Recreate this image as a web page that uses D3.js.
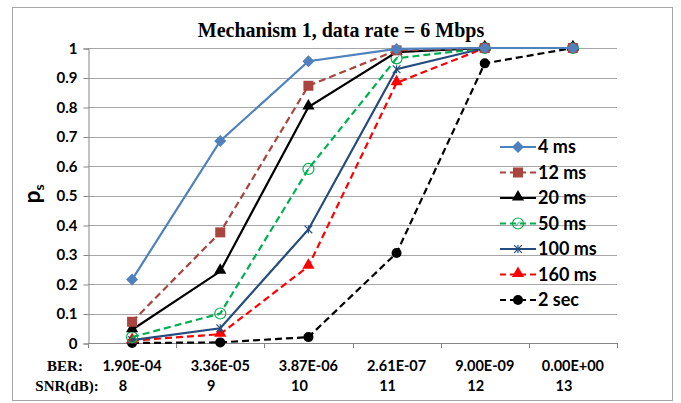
<!DOCTYPE html>
<html>
<head>
<meta charset="utf-8">
<script src="https://cdn.jsdelivr.net/npm/d3@7"></script>
<style>
  body { margin: 0; background: #fff; }
  svg text { font-family: "Lato", "Liberation Sans", sans-serif; }
</style>
</head>
<body>
<svg id="chart" width="681" height="403"></svg>
<script>
// categories
var ber = ["1.90E-04", "3.36E-05", "3.87E-06", "2.61E-07", "9.00E-09", "0.00E+00"];
var snr = ["8", "9", "10", "11", "12", "13"];
var yTicks = [0, 0.1, 0.2, 0.3, 0.4, 0.5, 0.6, 0.7, 0.8, 0.9, 1];

// series values
var ms4   = [0.215, 0.685, 0.955, 0.997, 1, 1];
var ms12  = [0.072, 0.375, 0.872, 0.992, 1, 1];
var ms20  = [0.045, 0.243, 0.800, 0.986, 1, 1];
var ms50  = [0.020, 0.100, 0.590, 0.965, 1, 1];
var ms100 = [0.010, 0.050, 0.385, 0.928, 1, 1];
var ms160 = [0.008, 0.030, 0.260, 0.882, 1, 1];
var sec2  = [0.000, 0.002, 0.020, 0.305, 0.948, 1];

var series = [
  {name: "4 ms",   values: ms4,   color: "#4F81BD", dash: null,  marker: "diamond"},
  {name: "12 ms",  values: ms12,  color: "#A9443F", dash: "7,4", marker: "square"},
  {name: "20 ms",  values: ms20,  color: "#000000", dash: null,  marker: "triangle"},
  {name: "50 ms",  values: ms50,  color: "#00B050", dash: "7,4", marker: "circleOpen"},
  {name: "100 ms", values: ms100, color: "#244C7C", dash: null,  marker: "star"},
  {name: "160 ms", values: ms160, color: "#FF0000", dash: "7,4", marker: "triangle"},
  {name: "2 sec",  values: sec2,  color: "#000000", dash: "7,4", marker: "circle"}
];

var svg = d3.select("#chart");
var pLeft = 88, pRight = 617, pTop = 48, pBottom = 343;

// outer border
svg.append("rect").attr("x", 12.5).attr("y", 7.5).attr("width", 660).attr("height", 393)
  .attr("fill", "none").attr("stroke", "#a6a6a6");

var x = d3.scaleBand().domain(ber).range([pLeft, pRight]);
var y = d3.scaleLinear().domain([0, 1]).range([pBottom, pTop]);

// gridlines
svg.append("g").selectAll("line").data(yTicks.slice(1)).enter().append("line")
  .attr("x1", pLeft).attr("x2", pRight)
  .attr("y1", function(d) { return Math.round(y(d)) + 0.5; })
  .attr("y2", function(d) { return Math.round(y(d)) + 0.5; })
  .attr("stroke", "#a6a6a6").attr("stroke-width", 1);

// y axis
var yAxis = d3.axisLeft(y).tickValues(yTicks).tickSize(5).tickPadding(6)
  .tickFormat(function(d) { return d3.format("")(+d.toFixed(1)); });
var gy = svg.append("g").attr("transform", "translate(" + (pLeft + 0.5) + ",0.5)").call(yAxis);
gy.select(".domain").attr("stroke", "#868686");
gy.selectAll(".tick line").attr("stroke", "#868686");
gy.selectAll(".tick text").attr("font-size", 15).attr("font-weight", "bold").attr("fill", "#000")
  .style("font-family", "Lato, sans-serif");

// x axis line with ticks at band edges
svg.append("line").attr("x1", pLeft).attr("x2", pRight)
  .attr("y1", pBottom + 0.5).attr("y2", pBottom + 0.5).attr("stroke", "#868686");
var edges = ber.map(function(d) { return x(d); }).concat([pRight]);
svg.append("g").selectAll("line").data(edges).enter().append("line")
  .attr("x1", function(d) { return Math.round(d) + 0.5; })
  .attr("x2", function(d) { return Math.round(d) + 0.5; })
  .attr("y1", pBottom).attr("y2", pBottom + 5).attr("stroke", "#868686");

// x category labels
var cx = function(i) { return x(ber[i]) + x.bandwidth() / 2; };
svg.append("g").selectAll("text").data(ber).enter().append("text")
  .attr("x", function(d, i) { return cx(i); }).attr("y", 371)
  .attr("text-anchor", "middle").attr("font-size", 14.5).attr("font-weight", "bold")
  .text(function(d) { return d; });
svg.append("g").selectAll("text").data(snr).enter().append("text")
  .attr("x", function(d, i) { return cx(i) - 9; }).attr("y", 391)
  .attr("text-anchor", "middle").attr("font-size", 14.5).attr("font-weight", "bold")
  .text(function(d) { return d; });
svg.append("text").attr("x", 65).attr("y", 371).attr("text-anchor", "middle")
  .style("font-family", "Liberation Serif, serif").attr("font-size", 15).attr("font-weight", "bold")
  .text("BER:");
svg.append("text").attr("x", 67).attr("y", 391).attr("text-anchor", "middle")
  .style("font-family", "Liberation Serif, serif").attr("font-size", 15).attr("font-weight", "bold")
  .text("SNR(dB):");

// title
svg.append("text").attr("x", 341).attr("y", 37).attr("text-anchor", "middle")
  .style("font-family", "Liberation Serif, serif").attr("font-size", 20).attr("font-weight", "bold")
  .text("Mechanism 1, data rate = 6 Mbps");

// y label p_s
var yl = svg.append("text").attr("transform", "translate(40,194) rotate(-90)")
  .attr("text-anchor", "middle").attr("font-size", 23).attr("font-weight", "bold");
yl.append("tspan").text("p");
yl.append("tspan").attr("font-size", 14).attr("dy", 4).text("s");

// markers
function drawMarker(g, type, color, px, py) {
  if (type === "diamond") {
    g.append("path").attr("d", "M0,-6L6,0L0,6L-6,0Z")
      .attr("transform", "translate(" + px + "," + py + ")").attr("fill", color);
  } else if (type === "square") {
    g.append("rect").attr("x", px - 5).attr("y", py - 5).attr("width", 10).attr("height", 10)
      .attr("fill", color);
  } else if (type === "triangle") {
    g.append("path").attr("d", d3.symbol(d3.symbolTriangle, 64)())
      .attr("transform", "translate(" + px + "," + (py - 1) + ")").attr("fill", color);
  } else if (type === "circleOpen") {
    g.append("circle").attr("cx", px).attr("cy", py).attr("r", 5.5)
      .attr("fill", "none").attr("stroke", color).attr("stroke-width", 1.2);
    g.append("line").attr("x1", px - 2).attr("x2", px + 2).attr("y1", py + 2).attr("y2", py - 2)
      .attr("stroke", color).attr("stroke-width", 1);
  } else if (type === "star") {
    g.append("path").attr("d", d3.symbol(d3.symbolTimes, 40)())
      .attr("transform", "translate(" + px + "," + py + ")")
      .attr("fill", "none").attr("stroke", color).attr("stroke-width", 1.2);
    g.append("line").attr("x1", px).attr("x2", px).attr("y1", py - 4).attr("y2", py + 4)
      .attr("stroke", color).attr("stroke-width", 1.2);
  } else if (type === "circle") {
    g.append("circle").attr("cx", px).attr("cy", py).attr("r", 5).attr("fill", color);
  }
}

var line = d3.line()
  .x(function(d, i) { return cx(i); })
  .y(function(d) { return y(d); });

var plot = svg.append("g");
// draw in reverse so 4 ms ends up on top like the original
series.slice().reverse().forEach(function(s) {
  var g = plot.append("g");
  g.append("path").datum(s.values).attr("d", line)
    .attr("fill", "none").attr("stroke", s.color).attr("stroke-width", 2.2)
    .attr("stroke-dasharray", s.dash);
  s.values.forEach(function(v, i) { drawMarker(g, s.marker, s.color, cx(i), y(v)); });
});

// legend
var lg = svg.append("g");
series.forEach(function(s, i) {
  var ly = 147 + i * 25.5;
  var row = lg.append("g");
  row.append("line").attr("x1", 500).attr("x2", 536).attr("y1", ly).attr("y2", ly)
    .attr("stroke", s.color).attr("stroke-width", 2.2).attr("stroke-dasharray", s.dash ? "6,4" : null);
  drawMarker(row, s.marker, s.color, 518, ly);
  row.append("text").attr("x", 538).attr("y", ly + 6).attr("font-size", 18).attr("font-weight", "bold")
    .text(s.name);
});
</script>
</body>
</html>
